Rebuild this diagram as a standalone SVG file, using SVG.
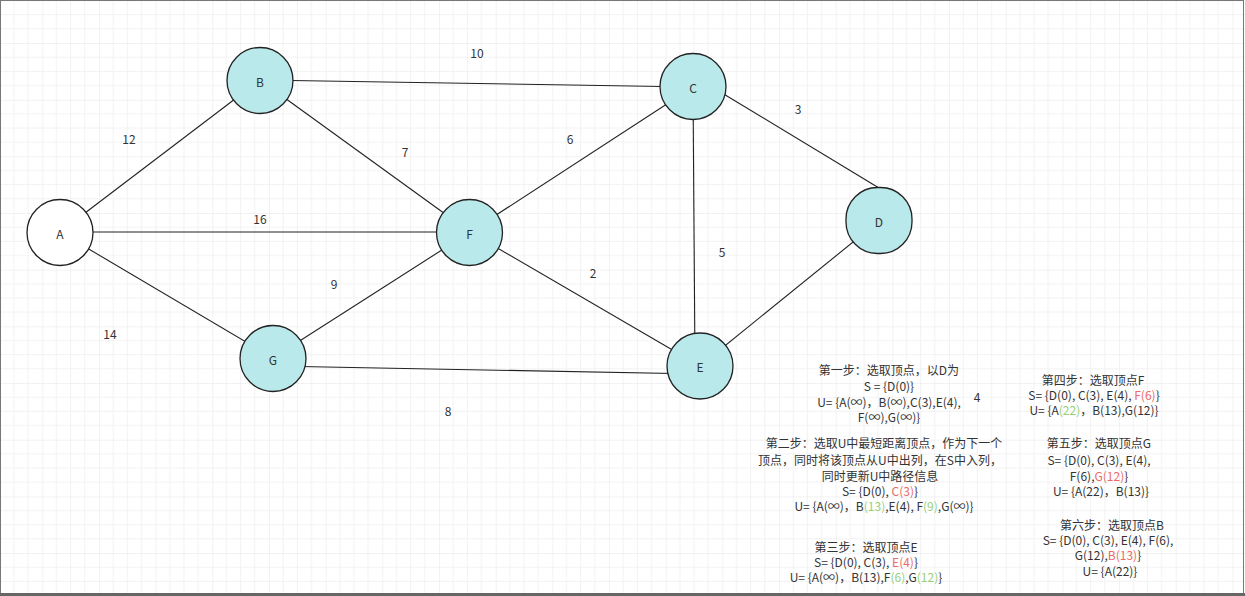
<svg xmlns="http://www.w3.org/2000/svg" width="1245" height="596" viewBox="0 0 1245 596">
<style>
.node{fill:#b9e9ea;stroke:#222;stroke-width:1.3}
.lbl{font-family:"Noto Sans CJK SC","Liberation Sans",sans-serif;font-size:12px;fill:#333;text-anchor:middle;dominant-baseline:central}
.edge{stroke:#222;stroke-width:1.1;fill:none}
.t{font-family:"Noto Sans CJK SC","Liberation Sans",sans-serif;font-size:12px;fill:#333;text-anchor:middle}
.r{fill:#ea6b66}
.g{fill:#97d077}
</style>
<defs>
<pattern id="grid" patternUnits="userSpaceOnUse" x="42.3" y="43" width="56.67" height="56.67">
<path d="M14.17 0V56.67M28.33 0V56.67M42.5 0V56.67M0 14.17H56.67M0 28.33H56.67M0 42.5H56.67" stroke="#f2f2f2" stroke-width="1" fill="none"/>
<path d="M0 0V56.67M0 0H56.67" stroke="#e6e6e6" stroke-width="1" fill="none"/>
</pattern>
</defs>
<rect width="1245" height="596" fill="#fff"/>
<rect width="1245" height="596" fill="url(#grid)"/>
<rect x="0.5" y="0.5" width="1243" height="593" fill="none" stroke="#777" stroke-width="1"/>
<rect x="0" y="593" width="1245" height="3" fill="#666"/>
<g id="connectors">
<line class="edge" x1="60" y1="232" x2="260" y2="80"/>
<line class="edge" x1="60" y1="232" x2="470" y2="232"/>
<line class="edge" x1="60" y1="232" x2="273" y2="358"/>
<line class="edge" x1="260" y1="80" x2="693" y2="87"/>
<line class="edge" x1="260" y1="80" x2="470" y2="232"/>
<line class="edge" x1="470" y1="232" x2="693" y2="87"/>
<line class="edge" x1="693" y1="87" x2="695" y2="366"/>
<line class="edge" x1="722" y1="93" x2="879" y2="188"/>
<line class="edge" x1="879" y1="221" x2="700" y2="366"/>
<line class="edge" x1="470" y1="232" x2="700" y2="366"/>
<line class="edge" x1="273" y1="358" x2="470" y2="232"/>
<line class="edge" x1="273" y1="366" x2="700" y2="374"/>
</g>
<g id="edge-labels">
<text class="lbl" x="477" y="52">10</text>
<text class="lbl" x="798" y="108">3</text>
<text class="lbl" x="129" y="138">12</text>
<text class="lbl" x="405" y="151">7</text>
<text class="lbl" x="570" y="138">6</text>
<text class="lbl" x="260" y="218">16</text>
<text class="lbl" x="722" y="251">5</text>
<text class="lbl" x="593" y="272">2</text>
<text class="lbl" x="334" y="283">9</text>
<text class="lbl" x="110" y="333">14</text>
<text class="lbl" x="448" y="410">8</text>
<text class="lbl" x="977" y="396">4</text>
</g>
<g id="node-A"><circle cx="60" cy="232.5" r="33" fill="#fff" stroke="#222" stroke-width="1.3"/><text class="lbl" x="60" y="233">A</text></g>
<g id="node-B"><circle class="node" cx="260" cy="80.5" r="33"/><text class="lbl" x="260" y="81">B</text></g>
<g id="node-C"><circle class="node" cx="693" cy="86.5" r="33"/><text class="lbl" x="693" y="87">C</text></g>
<g id="node-D"><rect class="node" x="846" y="187.5" width="66" height="66" rx="31.5" ry="31.5"/><text class="lbl" x="879" y="221">D</text></g>
<g id="node-F"><circle class="node" cx="469.5" cy="232.5" r="33"/><text class="lbl" x="469.5" y="233">F</text></g>
<g id="node-G"><circle class="node" cx="273" cy="358.5" r="33"/><text class="lbl" x="273" y="359">G</text></g>
<g id="node-E"><circle class="node" cx="700" cy="366" r="33"/><text class="lbl" x="700" y="366">E</text></g>
<g id="step1">
<text class="t" x="889" y="375">第一步：选取顶点，以D为</text>
<text class="t" x="889" y="391">S = {D(0)}</text>
<text class="t" x="889" y="407">U= {A(∞)，B(∞),C(3),E(4),</text>
<text class="t" x="889" y="422">F(∞),G(∞)}</text>
</g>
<g id="step2">
<text class="t" x="884" y="448">第二步：选取U中最短距离顶点，作为下一个</text>
<text class="t" x="880" y="465">顶点，同时将该顶点从U中出列，在S中入列，</text>
<text class="t" x="880" y="481">同时更新U中路径信息</text>
<text class="t" x="880" y="496">S= {D(0), <tspan class="r">C(3)</tspan>}</text>
<text class="t" x="884" y="511">U= {A(∞)，B<tspan class="g">(13)</tspan>,E(4), F<tspan class="g">(9)</tspan>,G(∞)}</text>
</g>
<g id="step3">
<text class="t" x="866" y="552">第三步：选取顶点E</text>
<text class="t" x="866" y="567">S= {D(0), C(3), <tspan class="r">E(4)</tspan>}</text>
<text class="t" x="866" y="582">U= {A(∞)，B(13),F<tspan class="g">(6)</tspan>,G<tspan class="g">(12)</tspan>}</text>
</g>
<g id="step4">
<text class="t" x="1093" y="385">第四步：选取顶点F</text>
<text class="t" x="1094" y="400">S= {D(0), C(3), E(4), <tspan class="r">F(6)</tspan>}</text>
<text class="t" x="1094" y="415">U= {A<tspan class="g">(22)</tspan>，B(13),G(12)}</text>
</g>
<g id="step5">
<text class="t" x="1099" y="448">第五步：选取顶点G</text>
<text class="t" x="1099" y="465">S= {D(0), C(3), E(4),</text>
<text class="t" x="1099" y="481">F(6),<tspan class="r">G(12)</tspan>}</text>
<text class="t" x="1101" y="496">U= {A(22)，B(13)}</text>
</g>
<g id="step6">
<text class="t" x="1112" y="530">第六步：选取顶点B</text>
<text class="t" x="1108" y="545">S= {D(0), C(3), E(4), F(6),</text>
<text class="t" x="1108" y="560">G(12),<tspan class="r">B(13)</tspan>}</text>
<text class="t" x="1110" y="576">U= {A(22)}</text>
</g>
</svg>
